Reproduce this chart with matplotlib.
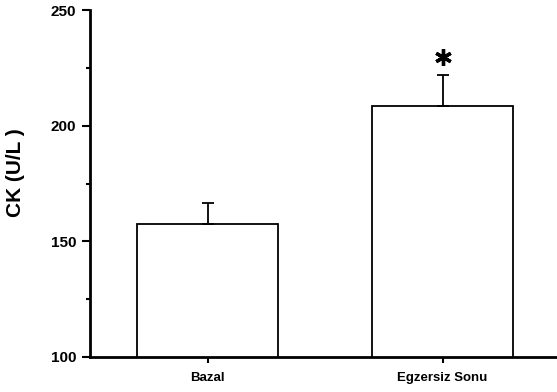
import matplotlib
matplotlib.use('Agg')
import matplotlib.pyplot as plt
from matplotlib.ticker import MultipleLocator

plt.rcParams['font.family'] = ['Liberation Sans', 'DejaVu Sans']
plt.rcParams['font.weight'] = 'bold'

groups = ['Bazal', 'Egzersiz Sonu']
means = [157.5, 208.5]
errors = [9.0, 13.5]
marks = ['', '*']

fig = plt.figure(figsize=(5.57, 3.92), dpi=100)
ax = fig.add_axes([90 / 557, 35 / 392, 470 / 557, 347 / 392])

pos = [1, 2]
ax.bar(pos, means, width=0.6, bottom=0, color='white', edgecolor='black',
       linewidth=1.3, zorder=2)
ax.errorbar(pos, means, yerr=[[0, 0], errors], fmt='none', ecolor='black',
            elinewidth=1.3, capsize=4, capthick=1.3, zorder=3)
# significance mark drawn as a six-armed asterisk above the error bar
for x, m, e, s in zip(pos, means, errors, marks):
    if s:
        ax.plot(x, m + e + 7.5, marker=(6, 2, 0), markersize=12,
                markeredgewidth=2.4, color='black', zorder=4)

ax.set_xlim(0.5, 2.5)
ax.set_ylim(100, 250)
ax.set_xticks(pos)
ax.set_xticklabels(groups, fontsize=9.5, fontweight='bold')
ax.tick_params(axis='x', length=4, width=1.5, pad=7, direction='out')
ax.yaxis.set_major_locator(MultipleLocator(50))
ax.yaxis.set_minor_locator(MultipleLocator(25))
ax.tick_params(axis='y', which='major', length=6, width=1.5, labelsize=11,
               direction='out', pad=4)
ax.tick_params(axis='y', which='minor', length=3, width=1.5, direction='out')
for lab in ax.get_yticklabels():
    lab.set_fontweight('bold')
ax.set_ylabel('CK (U/L )', fontsize=15, fontweight='bold')
ax.yaxis.set_label_coords(-0.138, 0.53)

ax.spines['top'].set_visible(False)
ax.spines['right'].set_visible(False)
ax.spines['left'].set_linewidth(2)
ax.spines['bottom'].set_linewidth(2)

fig.savefig('out.png', dpi=100)
